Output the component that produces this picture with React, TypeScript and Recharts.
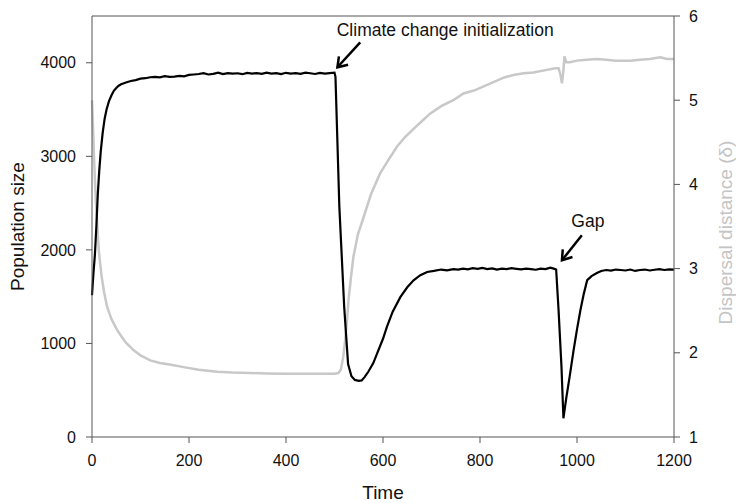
import React from "react";
import { LineChart, Line, XAxis, YAxis, ReferenceLine } from "recharts";

// Population size (left axis) over time
const popTime = [0,3,6,9,12,15,18,22,26,30,35,40,45,50,55,60,70,80,90,100,110,120,130,140,150,160,170,180,190,200,210,220,230,240,250,260,270,280,290,300,310,320,330,340,350,360,370,380,390,400,410,420,430,440,450,460,470,480,490,500,502,510,520,528,535,542,550,556,562,570,580,590,600,608,620,636,650,663,677,691,705,720,732,745,755,765,775,785,795,805,815,825,835,845,855,865,875,885,895,905,915,925,935,945,952,957,962,968,972,978,985,993,1000,1007,1014,1021,1030,1041,1050,1060,1070,1080,1090,1100,1110,1120,1130,1140,1150,1160,1170,1180,1190,1200];
const popValues = [1515,1750,1950,2250,2600,2850,3050,3250,3400,3500,3590,3650,3700,3730,3755,3770,3790,3805,3815,3830,3835,3845,3850,3845,3858,3850,3852,3860,3855,3870,3875,3880,3890,3875,3882,3895,3880,3890,3885,3888,3878,3892,3885,3890,3882,3895,3885,3890,3880,3893,3885,3890,3882,3895,3888,3880,3892,3885,3890,3895,3850,2460,1390,780,650,610,600,605,640,700,790,920,1050,1177,1340,1497,1600,1675,1730,1764,1775,1790,1782,1795,1790,1800,1792,1805,1798,1808,1795,1802,1790,1800,1795,1805,1798,1792,1800,1795,1788,1800,1795,1810,1800,1790,1355,750,200,420,650,928,1150,1355,1530,1676,1720,1753,1775,1785,1778,1790,1785,1780,1790,1775,1785,1790,1780,1788,1795,1785,1792,1790];

// Dispersal distance (right axis) over time
const dispTime = [0,2,4,6,8,10,12,14,17,20,25,31,40,52,60,70,86,100,120,140,160,189,220,258,290,326,360,400,450,500,508,513,518,522,526,529,534,539,548,560,575,594,610,629,645,663,680,697,720,745,766,790,810,830,850,869,890,910,938,955,962,966,969,972,974,978,985,1000,1020,1041,1060,1080,1100,1110,1130,1150,1172,1185,1200];
const dispValues = [5.0,4.7,4.35,4.05,3.8,3.6,3.4,3.22,3.05,2.9,2.72,2.55,2.4,2.27,2.2,2.12,2.03,1.97,1.91,1.88,1.86,1.83,1.8,1.775,1.765,1.76,1.755,1.752,1.75,1.752,1.76,1.8,1.95,2.15,2.4,2.63,2.9,3.14,3.4,3.61,3.88,4.13,4.28,4.45,4.56,4.66,4.75,4.84,4.93,5.0,5.08,5.12,5.17,5.22,5.27,5.3,5.32,5.33,5.36,5.38,5.38,5.3,5.2,5.35,5.52,5.45,5.45,5.47,5.48,5.49,5.48,5.47,5.47,5.47,5.48,5.49,5.51,5.49,5.49];

const xTicks = [0, 200, 400, 600, 800, 1000, 1200];
const leftTicks = [0, 1000, 2000, 3000, 4000];
const rightTicks = [1, 2, 3, 4, 5, 6];

// Annotations: [tail, head] in data coordinates (time, population)
const climateArrow = [{ x: 553, y: 4219 }, { x: 506, y: 3952 }];
const gapArrow = [{ x: 1010, y: 2156 }, { x: 969, y: 1889 }];

const popData = popTime.map((t, i) => ({ t, pop: popValues[i] }));
const dispData = dispTime.map((t, i) => ({ t, disp: dispValues[i] }));

const FONT = "'Liberation Sans', Arial, sans-serif";
const AXIS = "#555";

const makeArrow = (text: string, dx: number, dy: number) => (props: any) => {
  const { x1, y1, x2, y2 } = props;
  const ang = Math.atan2(y1 - y2, x1 - x2);
  const L = 11;
  const a1 = ang + 0.6;
  const a2 = ang - 0.6;
  return (
    <g>
      <line x1={x1} y1={y1} x2={x2} y2={y2} stroke="#000" strokeWidth={2.5} />
      <polyline
        points={`${x2 + L * Math.cos(a1)},${y2 + L * Math.sin(a1)} ${x2},${y2} ${x2 + L * Math.cos(a2)},${y2 + L * Math.sin(a2)}`}
        fill="none"
        stroke="#000"
        strokeWidth={2.5}
      />
      <text x={x1 + dx} y={y1 + dy} textAnchor="middle" fontSize={17.5} fontFamily={FONT} fill="#111">
        {text}
      </text>
    </g>
  );
};

export default function App() {
  return (
    <div style={{ position: "absolute", left: 0, top: 0, background: "#fff" }}>
      <LineChart width={736} height={503} margin={{ top: 16, right: 0, bottom: 0, left: 0 }}>
        <XAxis
          dataKey="t"
          type="number"
          domain={[0, 1200]}
          ticks={xTicks}
          interval={0}
          allowDuplicatedCategory={false}
          height={66}
          tickSize={6}
          tickMargin={12}
          axisLine={{ stroke: AXIS }}
          tickLine={{ stroke: AXIS }}
          tick={{ fill: "#111", fontSize: 16, fontFamily: FONT }}
          label={{
            content: (p: any) => {
              const vb = p.viewBox;
              return (
                <text x={vb.x + vb.width / 2} y={499} textAnchor="middle" fontSize={19} fontFamily={FONT} fill="#111">
                  Time
                </text>
              );
            },
          }}
        />
        <YAxis
          yAxisId="left"
          domain={[0, 4500]}
          ticks={leftTicks}
          interval={0}
          width={92}
          tickSize={6}
          tickMargin={10}
          axisLine={{ stroke: AXIS }}
          tickLine={{ stroke: AXIS }}
          tick={{ fill: "#111", fontSize: 16, fontFamily: FONT }}
          label={{
            content: (p: any) => {
              const vb = p.viewBox;
              const cy = vb.y + vb.height / 2;
              return (
                <text x={17} y={cy} transform={`rotate(-90, 17, ${cy})`} textAnchor="middle" dominantBaseline="central" fontSize={19} fontFamily={FONT} fill="#111">
                  Population size
                </text>
              );
            },
          }}
        />
        <YAxis
          yAxisId="right"
          orientation="right"
          domain={[1, 6]}
          ticks={rightTicks}
          interval={0}
          width={62}
          tickSize={6}
          tickMargin={9}
          axisLine={{ stroke: AXIS }}
          tickLine={{ stroke: AXIS }}
          tick={{ fill: "#111", fontSize: 16, fontFamily: FONT }}
          label={{
            content: (p: any) => {
              const vb = p.viewBox;
              const cy = vb.y + vb.height / 2 + 6;
              return (
                <text x={725} y={cy} transform={`rotate(-90, 725, ${cy})`} textAnchor="middle" dominantBaseline="central" fontSize={19} fontFamily={FONT} fill="#c4c4c4">
                  Dispersal distance (δ)
                </text>
              );
            },
          }}
        />
        <ReferenceLine yAxisId="left" y={4500} stroke={AXIS} ifOverflow="visible" />
        <Line
          yAxisId="right"
          data={dispData}
          dataKey="disp"
          type="linear"
          stroke="#c8c8c8"
          strokeWidth={2.5}
          dot={false}
          isAnimationActive={false}
        />
        <Line
          yAxisId="left"
          data={popData}
          dataKey="pop"
          type="linear"
          stroke="#000"
          strokeWidth={2.2}
          dot={false}
          isAnimationActive={false}
        />
        <ReferenceLine
          yAxisId="left"
          segment={climateArrow}
          ifOverflow="visible"
          shape={makeArrow("Climate change initialization", 85, -6.7)}
        />
        <ReferenceLine
          yAxisId="left"
          segment={gapArrow}
          ifOverflow="visible"
          shape={makeArrow("Gap", 6, -8)}
        />
      </LineChart>
    </div>
  );
}
